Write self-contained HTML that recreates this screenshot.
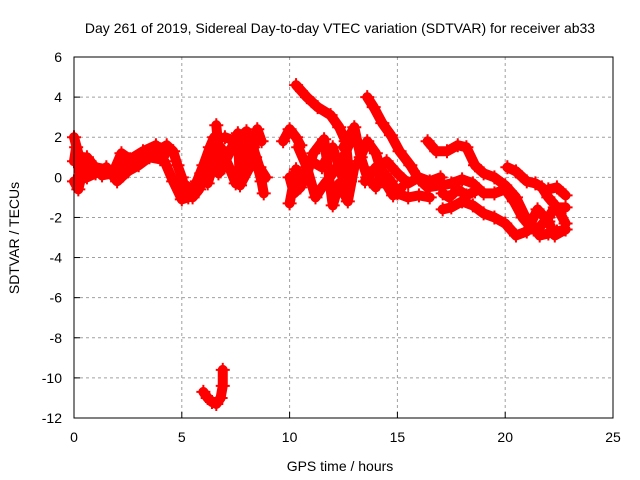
<!DOCTYPE html>
<html><head><meta charset="utf-8"><style>
body{margin:0;background:#fff}
svg{display:block;font-family:"Liberation Sans",sans-serif}
</style></head><body>
<svg id="chart" width="640" height="480">
<text x="340" y="33" text-anchor="middle" font-size="14">Day 261 of 2019, Sidereal Day-to-day VTEC variation (SDTVAR) for receiver ab33</text>
<text x="340" y="471" text-anchor="middle" font-size="14">GPS time / hours</text>
<text transform="translate(19,238) rotate(-90)" text-anchor="middle" font-size="14">SDTVAR / TECUs</text>
<g id="grid"></g><g id="ticks"></g><g id="marks"></g>
<rect x="74" y="57" width="539" height="361" fill="none" stroke="#000" stroke-width="1"/>
</svg>
<script>
const xTicks=[0,5,10,15,20,25];
const yTicks=[6,4,2,0,-2,-4,-6,-8,-10,-12];
const trackA1=[[0,2],[0.2,1.2],[0.5,0.6],[1,0.5],[1.5,0.4],[2,0.3],[2.5,0.8],[3,1.0],[3.5,1.2],[4,1.4],[4.3,1.6],[4.6,1.3],[4.8,0.6],[5,0],[5.2,-0.8],[5.5,-1.0],[5.8,-0.6],[6.2,0.5],[6.5,1.3],[6.7,1.8]];
const trackA2=[[0,0.8],[0.1,1.5],[0.3,-0.1],[0.6,0],[1,0.2],[1.5,0.5],[2,-0.2],[2.5,0.3],[3,0.6],[3.5,1.0],[4,0.9]];
const trackA3=[[0,-0.2],[0.2,-0.6],[0.4,0.3],[0.6,1.0],[0.9,0.6],[1.3,0.1],[1.8,0.2],[2.2,1.2],[2.6,0.9],[3.2,1.3],[3.8,1.6],[4.2,1.1]];
const trackB=[[4.2,0.8],[4.6,-0.2],[5,-1.1],[5.3,-1.0],[5.7,-0.2],[6,0.6],[6.3,1.5],[6.5,2]];
const trackB2=[[5.2,-0.4],[5.6,-0.8],[5.9,0.2],[6.2,-0.3],[6.5,0.8],[6.7,0.2]];
const trackC=[[6.8,1.5],[7.2,0.5],[7.5,-0.3],[7.8,0.8],[8.1,1.8],[8.4,1],[8.7,-0.2],[8.8,-0.8]];
const trackC2=[[7,2],[7.5,1.8],[8,2.3],[8.3,1.5],[8.6,0.5],[8.9,0]];
const trackC3=[[6.6,2.6],[6.8,0.3],[7.2,1.2],[7.6,2.2],[7.7,-0.4],[8.2,0.6],[8.5,2.4],[8.7,1.8]];
const trackD=[[9.7,1.8],[10,2.4],[10.3,2.0],[10.5,1.6]];
const trackD2=[[10,0],[10.2,-0.8],[10.5,-0.5],[11,0.8],[11.5,0.5],[12,1.5],[12.3,0.5],[12.6,-0.5]];
const trackD3=[[10.4,1.5],[10.8,0.5],[11.2,-1],[11.5,-0.5],[12,0.2],[12.5,1],[12.9,2]];
const trackD4=[[10,-1.3],[10.3,0.4],[10.7,-0.2],[11.1,1.2],[11.6,1.9],[12,-1.4],[12.3,-0.3],[12.7,-1.2],[13,0.5]];
const trackE=[[10.3,4.6],[10.8,4.0],[11.3,3.5],[11.9,3.1],[12.3,2.5],[12.6,1.8],[12.7,0.8],[12.8,-0.2]];
const trackF=[[13.6,4],[13.9,3.5],[14.3,2.7],[14.7,2.1],[15.1,1.3],[15.6,0.6],[16,-0.1],[16.4,-0.5],[17,-0.4]];
const trackM1=[[12.5,1.5],[13,2.5],[13.3,1],[13.6,0],[14,-0.5],[14.3,0.3],[14.7,-0.2],[15,-0.8],[15.5,-1],[16,-0.9],[16.5,-1]];
const trackM2=[[13.5,-0.2],[14,0.5],[14.5,0.8],[15,0.2],[15.5,-0.3],[16,0],[16.5,-0.2],[17,0]];
const trackM3=[[13.2,0.8],[13.6,1.8],[14,1.2],[14.4,-0.2],[14.8,-0.9],[15.2,-0.5]];
const trackG=[[16.4,1.8],[16.8,1.3],[17.3,1.3],[17.8,1.6],[18.2,1.5],[18.6,0.6],[19,0.2],[19.5,0],[20,-0.4],[20.5,-1],[20.9,-1.9],[21.3,-2.5],[21.6,-2.9],[22,-2.8],[22.4,-2.7],[22.8,-2.6]];
const trackH=[[17.1,-0.4],[17.5,-0.3],[18,-0.1],[18.5,-0.3],[19,-0.8],[19.5,-0.8],[20,-0.6],[20.4,-1.2],[20.8,-2],[21.2,-2.5],[21.5,-2.6],[22,-2],[22.3,-1.5],[22.8,-1.5]];
const trackI=[[17.1,-1.6],[17.5,-1.5],[18,-1.2],[18.5,-1.4],[19,-1.8],[19.5,-2.0],[20,-2.3],[20.5,-2.9],[21,-2.7],[21.5,-1.6],[22,-2.2],[22.3,-2.9],[22.8,-2.6]];
const trackI2=[[17.1,-0.8],[17.4,-1.0],[17.8,-0.6],[18.2,-0.9],[18.6,-0.7]];
const trackJ=[[20.1,0.5],[20.5,0.3],[21,-0.2],[21.4,-0.3],[21.7,-0.5],[22,-1],[22.4,-1.5],[22.8,-2.3]];
const trackJ2=[[22,-0.6],[22.4,-0.5],[22.8,-0.9]];
const trackK=[[6,-10.7],[6.2,-11],[6.4,-11.2],[6.6,-11.3],[6.8,-11],[6.9,-10.4],[6.9,-9.6]];
const tracks=[trackA1,trackA2,trackA3,trackB,trackB2,trackC,trackC2,trackC3,trackD,trackD2,trackD3,trackD4,trackE,trackF,trackM1,trackM2,trackM3,trackG,trackH,trackI,trackI2,trackJ,trackJ2,trackK];
const X=h=>74+h*(539/25);
const Y=v=>57+(6-v)*(361/18);
const NS='http://www.w3.org/2000/svg';
function mk(t,a){const e=document.createElementNS(NS,t);for(const k in a)e.setAttribute(k,a[k]);return e;}
const grid=document.getElementById('grid'),ticks=document.getElementById('ticks'),marks=document.getElementById('marks');
xTicks.forEach(t=>{
 if(t>0&&t<25){const l=mk('line',{x1:X(t),x2:X(t),y1:57,y2:418,stroke:'#a0a0a0','stroke-dasharray':'3,3'});
 
 grid.appendChild(l);}
 const tk=mk('line',{x1:X(t),x2:X(t),y1:418,y2:412,stroke:'#000'});ticks.appendChild(tk);
 const tx=mk('text',{x:X(t),y:442,'text-anchor':'middle','font-size':14});tx.textContent=t;
 
 ticks.appendChild(tx);
});
yTicks.forEach(t=>{
 if(t<6&&t>-12){const l=mk('line',{x1:74,x2:613,y1:Y(t),y2:Y(t),stroke:'#a0a0a0','stroke-dasharray':'3,3'});
 
 grid.appendChild(l);}
 const tk=mk('line',{x1:74,x2:80,y1:Y(t),y2:Y(t),stroke:'#000'});ticks.appendChild(tk);
 const tx=mk('text',{x:62,y:Y(t)+5,'text-anchor':'end','font-size':14});tx.textContent=t;
 
 ticks.appendChild(tx);
});
tracks.forEach(tr=>{
 const pl=mk('polyline',{points:tr.map(p=>X(p[0])+','+Y(p[1])).join(' '),fill:'none',stroke:'#ff0000','stroke-width':10,'stroke-linejoin':'round','stroke-linecap':'round'});
 
 
 marks.appendChild(pl);
 tr.forEach(p=>{
  const x=X(p[0]),y=Y(p[1]);
  const m=mk('path',{d:`M${x-7},${y}H${x+7}M${x},${y-7}V${y+7}`,stroke:'#ff0000','stroke-width':2});
  
  
  marks.appendChild(m);
 });
});
</script>
</body></html>
